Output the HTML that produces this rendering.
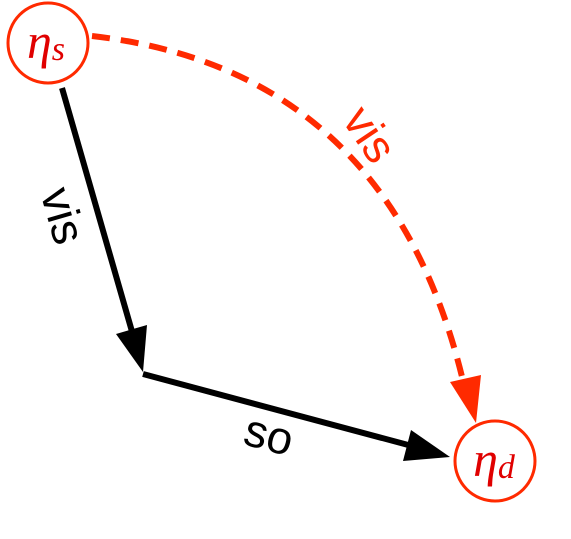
<!DOCTYPE html>
<html><head><meta charset="utf-8"><style>html,body{margin:0;padding:0;background:#fff}svg{display:block}</style></head>
<body>
<svg width="571" height="539" viewBox="0 0 571 539" xmlns="http://www.w3.org/2000/svg">
<g>
<line x1="62" y1="88" x2="133" y2="335" stroke="#000" stroke-width="6"/>
<polygon points="143,372 116,334 147,325" fill="#000"/>
</g>
<g>
<line x1="143" y1="374" x2="412" y2="446" stroke="#000" stroke-width="6"/>
<polygon points="450,457 403,461 411,430" fill="#000"/>
</g>
<g>
<path d="M92,36 Q390,70 464,385" fill="none" stroke="#ff2a00" stroke-width="6" stroke-dasharray="18,11"/>
<polygon points="476,423 450,382 481,375" fill="#ff2a00"/>
</g>
<g>
<circle cx="48" cy="43" r="40" fill="#fff" stroke="#ff2a00" stroke-width="3"/>
<text x="46" y="58" text-anchor="middle" font-family="Liberation Serif, serif" font-style="italic" font-size="50" fill="#e00000">η<tspan font-size="34" dy="2">s</tspan></text>
</g>
<g>
<circle cx="495" cy="461" r="40" fill="#fff" stroke="#ff2a00" stroke-width="3"/>
<text x="494" y="476" text-anchor="middle" font-family="Liberation Serif, serif" font-style="italic" font-size="50" fill="#e00000">η<tspan font-size="34" dy="2">d</tspan></text>
</g>
<text transform="translate(48,220) rotate(74)" text-anchor="middle" font-family="Liberation Sans, sans-serif" font-size="46" fill="#000">vis</text>
<text transform="translate(265,450) rotate(15)" text-anchor="middle" font-family="Liberation Sans, sans-serif" font-size="46" fill="#000">so</text>
<text transform="translate(357,143) rotate(56)" text-anchor="middle" font-family="Liberation Sans, sans-serif" font-size="46" fill="#ff2a00">vis</text>
</svg>
</body></html>
